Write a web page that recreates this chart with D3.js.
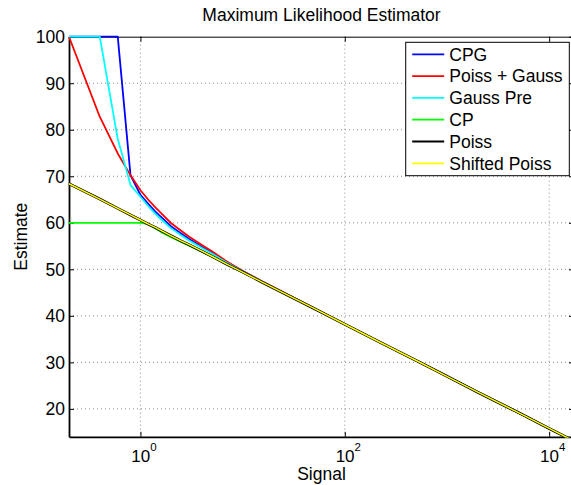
<!DOCTYPE html>
<html lang="en">
<head>
<meta charset="UTF-8">
<title>Maximum Likelihood Estimator</title>
<script src="https://d3js.org/d3.v7.min.js"></script>
<style>
    body { margin: 0; background: #fff; }
    svg { display: block; font-family: "Liberation Sans", Arial, Helvetica, sans-serif; }
    .grid line { stroke: #8a8a8a; stroke-width: 1; stroke-dasharray: 1,3; }
    .curve { fill: none; stroke-linejoin: round; }
</style>
</head>
<body>
<svg id="chart" width="571" height="485"></svg>
<script>
    // signal values (shared by all estimators)
    let signal = [0.2, 0.4, 0.6, 0.8, 1, 1.2, 1.4, 1.6, 2, 2.5, 3, 4, 5, 7, 10, 15, 20,
                  50, 100, 200, 500, 1000, 2000, 5000, 10000, 17500];
    // estimates
    let cpg        = [100, 100, 100, 70.2, 66.0, 64.0, 62.4, 61.2, 59.2, 57.7, 56.5, 54.8, 53.6, 51.5, 49.6, 47.5, 46.1,
                      41.6, 38.2, 34.8, 30.4, 27.0, 23.6, 19.2, 15.8, 13.1];
    let poissGauss = [100, 82.8, 74.9, 70.2, 67.0, 64.9, 63.3, 62.0, 59.9, 58.3, 57.0, 55.2, 53.9, 51.7, 49.7, 47.6, 46.2,
                      41.7, 38.2, 34.8, 30.4, 27.0, 23.6, 19.2, 15.8, 13.1];
    let gaussPre   = [100, 100, 78, 68.1, 65.6, 63.5, 61.9, 60.7, 58.8, 57.3, 56.2, 54.6, 53.4, 51.4, 49.6, 47.5, 46.1,
                      41.6, 38.2, 34.8, 30.4, 27.0, 23.6, 19.2, 15.8, 13.1];
    let cp         = [60, 60, 60, 60, 60, 59.7, 58.8, 58.0, 56.9, 55.9, 55.1, 53.8, 52.7, 51.1, 49.4, 47.4, 46.0,
                      41.6, 38.2, 34.8, 30.4, 27.0, 23.6, 19.2, 15.8, 13.1];
    let poiss      = [68.4, 65.1, 63.1, 61.7, 60.6, 59.7, 59.0, 58.3, 57.2, 56.1, 55.3, 53.9, 52.8, 51.1, 49.4, 47.4, 46.0,
                      41.6, 38.2, 34.8, 30.4, 27.0, 23.6, 19.2, 15.8, 13.1];
    let shiftedPoiss = [68.4, 65.1, 63.1, 61.7, 60.6, 59.7, 59.0, 58.3, 57.2, 56.1, 55.3, 53.9, 52.8, 51.1, 49.4, 47.4, 46.0,
                      41.6, 38.2, 34.8, 30.4, 27.0, 23.6, 19.2, 15.8, 13.1];

    let seriesNames  = ["CPG", "Poiss + Gauss", "Gauss Pre", "CP", "Poiss", "Shifted Poiss"];
    let seriesValues = [cpg, poissGauss, gaussPre, cp, poiss, shiftedPoiss];
    let seriesColors = ["#0000ff", "#ff0000", "#00ffff", "#00ff00", "#000000", "#ffff00"];
    let seriesWidths = [1.8, 1.8, 1.8, 1.8, 2.8, 1.5];

    let xTicks = [1, 100, 10000];
    let xTickExp = ["0", "2", "4"];
    let yTicks = [20, 30, 40, 50, 60, 70, 80, 90, 100];

    let pLeft = 69, pRight = 574, pTop = 36.7, pBottom = 436.8;
    let fontSize = 17.5;

    let svg = d3.select("#chart");

    let x = d3.scaleLog().domain([0.2, 17500]).range([pLeft, pRight]);
    let y = d3.scaleLinear().domain([14, 100]).range([pBottom, pTop]);

    // grid
    let grid = svg.append("g").attr("class", "grid");
    grid.selectAll(".gx").data(xTicks).join("line")
        .attr("x1", d => x(d)).attr("x2", d => x(d))
        .attr("y1", pTop).attr("y2", pBottom);
    grid.selectAll(".gy").data(yTicks.filter(d => d < 100)).join("line")
        .attr("x1", pLeft).attr("x2", pRight)
        .attr("y1", d => y(d)).attr("y2", d => y(d));

    // axes with inward ticks
    let ax = svg.append("g").attr("transform", `translate(0,${pBottom})`)
        .call(d3.axisBottom(x).tickValues(xTicks).tickSizeInner(-5).tickSizeOuter(0).tickFormat(""));
    let axTop = svg.append("g").attr("transform", `translate(0,${pTop})`)
        .call(d3.axisTop(x).tickValues(xTicks).tickSizeInner(-5).tickSizeOuter(0).tickFormat(""));
    let ay = svg.append("g").attr("transform", `translate(${pLeft},0)`)
        .call(d3.axisLeft(y).tickValues(yTicks).tickSizeInner(-5).tickSizeOuter(0).tickFormat(""));
    let ayRight = svg.append("g").attr("transform", `translate(${pRight},0)`)
        .call(d3.axisRight(y).tickValues(yTicks).tickSizeInner(-5).tickSizeOuter(0).tickFormat(""));
    [ax, axTop, ay, ayRight].forEach(g => {
        g.selectAll(".tick line").attr("stroke", "#000").attr("stroke-width", 1);
        g.select(".domain").attr("stroke", "#000");
    });
    ax.select(".domain").attr("stroke-width", 1.8);
    ay.select(".domain").attr("stroke-width", 1.8);
    axTop.select(".domain").attr("stroke-width", 1);
    ayRight.select(".domain").attr("stroke-width", 1);

    // tick labels
    svg.append("g").selectAll("text").data(yTicks).join("text")
        .attr("x", pLeft - 4).attr("y", d => y(d)).attr("dy", "0.36em")
        .attr("text-anchor", "end").attr("font-size", fontSize).attr("fill", "#000")
        .text(d => d);
    let xl = svg.append("g").selectAll("text").data(xTicks).join("text")
        .attr("x", d => x(d) + 3.5).attr("y", 461.5)
        .attr("text-anchor", "middle").attr("font-size", 17).attr("fill", "#000");
    xl.append("tspan").text("10");
    xl.append("tspan").attr("dy", -11).attr("font-size", 11.5).text((d, i) => xTickExp[i]);

    // clip
    svg.append("clipPath").attr("id", "plotclip")
        .append("rect").attr("x", pLeft - 2).attr("y", pTop - 2)
        .attr("width", pRight - pLeft + 4).attr("height", pBottom - pTop + 3);

    // curves
    let line = d3.line().x((d, i) => x(signal[i])).y(d => y(d));
    svg.append("g").attr("clip-path", "url(#plotclip)")
        .selectAll("path").data(seriesValues).join("path")
        .attr("class", "curve")
        .attr("stroke", (d, i) => seriesColors[i])
        .attr("stroke-width", (d, i) => seriesWidths[i])
        .attr("d", d => line(d));

    // title and labels
    svg.append("text").attr("x", (pLeft + pRight) / 2).attr("y", 21)
        .attr("text-anchor", "middle").attr("font-size", fontSize).attr("fill", "#000")
        .text("Maximum Likelihood Estimator");
    svg.append("text").attr("x", (pLeft + pRight) / 2).attr("y", 480)
        .attr("text-anchor", "middle").attr("font-size", fontSize).attr("fill", "#000")
        .text("Signal");
    svg.append("text").attr("transform", `translate(27,${(pTop + pBottom) / 2}) rotate(-90)`)
        .attr("text-anchor", "middle").attr("font-size", fontSize).attr("fill", "#000")
        .text("Estimate");

    // legend
    let lg = svg.append("g").attr("transform", "translate(405.7,42.3)");
    lg.append("rect").attr("width", 163.6).attr("height", 133.4)
        .attr("fill", "#fff").attr("stroke", "#000").attr("stroke-width", 1);
    let rows = lg.selectAll(".row").data(seriesNames).join("g")
        .attr("transform", (d, i) => `translate(0,${12 + i * 21.8})`);
    rows.append("line").attr("x1", 6.5).attr("x2", 38.5)
        .attr("stroke", (d, i) => seriesColors[i]).attr("stroke-width", 1.8);
    rows.append("text").attr("x", 43.6).attr("dy", "0.36em")
        .attr("font-size", fontSize).attr("fill", "#000").text(d => d);
</script>
</body>
</html>
